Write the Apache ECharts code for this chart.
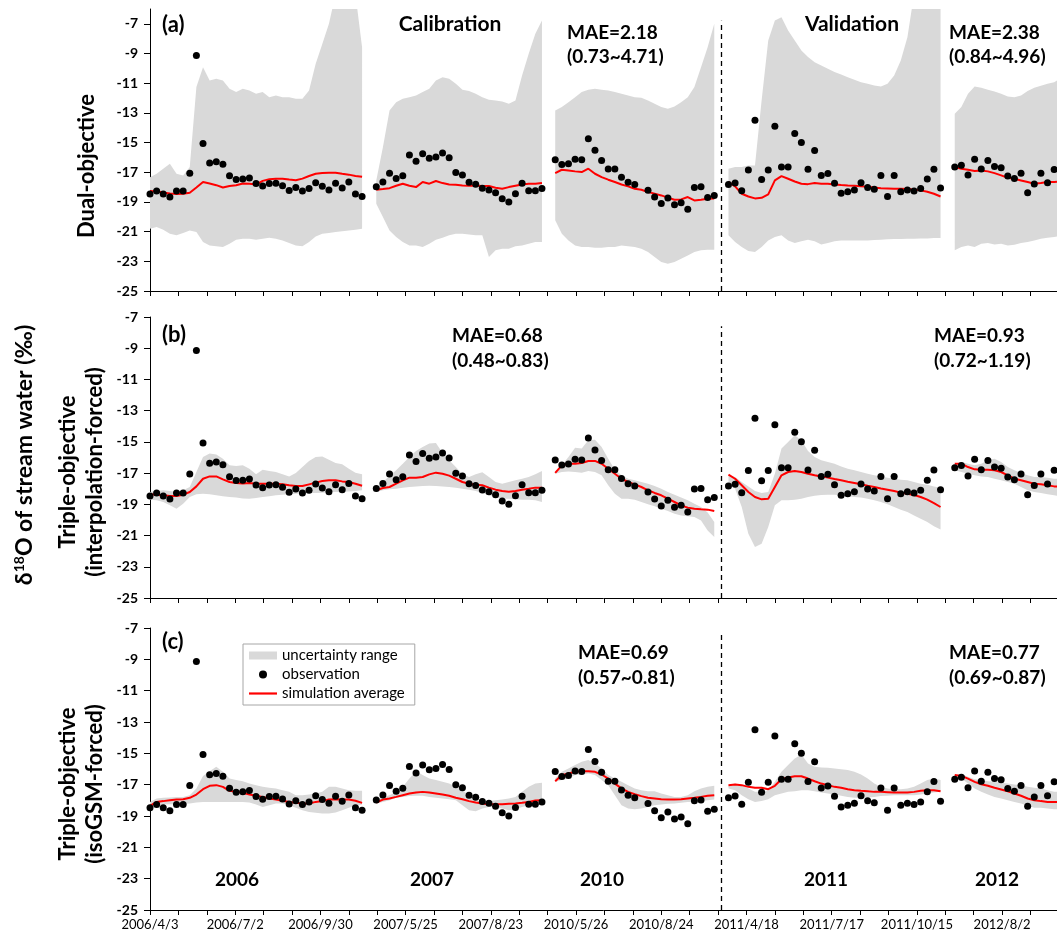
<!DOCTYPE html>
<html><head><meta charset="utf-8">
<script src="https://cdn.jsdelivr.net/npm/echarts@6/dist/echarts.min.js"></script>
<style>html,body{margin:0;padding:0;background:#fff}#c{width:1057px;height:940px}</style>
</head><body><div id="c"></div>
<script>
// ---- x positions (day index along the concatenated axis) ----
const x2006 = [0,7,14,21,28,35,42,49,56,63,70,77,84,91,98,105,112,119,126,133,140,147,154,161,168,175,182,189,196,203,210,217,224];
const x2007 = [239,246,253,260,267,274,281,288,295,302,309,316,323,330,337,344,351,358,365,372,379,386,393,400,407,414];
const x2010 = [428,435,442,449,456,463,470,477,484,491,498,505,512,519,526,533,540,547,554,561,568,575,582,589,596];
const x2011 = [611,618,625,632,639,646,653,660,667,674,681,688,695,702,709,716,723,730,737,744,751,758,765,772,779,786,793,800,807,814,821,828,835];
const x2012 = [850,857,864,871,878,885,892,899,906,913,920,927,934,941,948,955,958];

// ---- tick labels ----
const xTickValues = [0,30,60,90,120,150,180,210,240,270,300,330,360,390,420,450,480,510,540,570,600,630,660,690,720,750,780,810,840,870,900,930];
const xLabelValues = [0,90,180,270,360,450,540,630,720,810,900];
const xLabelText = ['2006/4/3','2006/7/2','2006/9/30','2007/5/25','2007/8/23','2010/5/26','2010/8/24','2011/4/18','2011/7/17','2011/10/15','2012/8/2'];
const yTickValues = [-25,-23,-21,-19,-17,-15,-13,-11,-9,-7];
const splitX = 603;

// ---- observations ----
const obs2006 = [-18.47,-18.27,-18.47,-18.66,-18.27,-18.27,-17.06,-9.14,-15.07,-16.37,-16.29,-16.46,-17.23,-17.48,-17.46,-17.38,-17.76,-17.93,-17.76,-17.74,-17.91,-18.23,-18.02,-18.27,-18.10,-17.70,-17.95,-18.19,-17.74,-18.06,-17.66,-18.47,-18.64];
const obs2007 = [-17.98,-17.66,-17.06,-17.42,-17.23,-15.84,-16.25,-15.75,-16.05,-15.97,-15.71,-16.03,-17.01,-17.19,-17.68,-17.80,-18.08,-18.19,-18.38,-18.79,-19.00,-18.45,-17.74,-18.25,-18.25,-18.10];
const obs2010 = [-16.16,-16.48,-16.42,-16.12,-16.16,-14.75,-15.52,-16.20,-16.78,-16.78,-17.34,-17.68,-17.83,null,-18.21,-18.66,-19.11,-18.74,-19.19,-19.06,-19.49,-18.02,-17.98,-18.70,-18.57];
const obs2011 = [-17.83,-17.72,-18.25,-16.84,-13.49,-17.49,-16.84,-13.90,-16.65,-16.65,-14.39,-14.99,-16.80,-15.54,-17.21,-17.08,-17.74,-18.42,-18.32,-18.19,-17.70,-18.02,-18.15,-17.21,-18.64,-17.21,-18.32,-18.19,-18.27,-18.10,-17.46,-16.80,-18.06];
const obs2012 = [-16.65,-16.52,-17.19,-16.12,-16.78,-16.20,-16.61,-16.69,-17.25,-17.42,-17.06,-18.38,-17.79,-17.06,-17.70,-16.82,null];

// ---- (a) Dual-objective ----
const aUp2006 = [-17.33,-17.10,-16.76,-16.43,-17.10,-17.21,-16.65,-11.26,-9.92,-10.82,-10.70,-10.82,-11.38,-11.60,-11.38,-11.49,-11.71,-11.60,-11.94,-11.83,-11.94,-11.94,-12.05,-12.05,-11.49,-9.69,-8.35,-7.00,-5,-5,-5,-5,-8.57];
const aLo2006 = [-20.80,-20.69,-20.87,-21.14,-21.25,-21.10,-20.92,-21.03,-21.70,-21.93,-21.99,-22.04,-21.81,-21.55,-21.48,-21.48,-21.55,-21.48,-21.41,-21.48,-21.59,-21.77,-21.93,-21.99,-21.70,-21.32,-21.14,-21.10,-21.03,-20.98,-20.92,-20.87,-20.80];
const aSim2006 = [-18.27,-18.29,-18.36,-18.43,-18.47,-18.45,-18.38,-18.03,-17.66,-17.76,-17.87,-18.03,-17.92,-17.87,-17.76,-17.78,-17.83,-17.58,-17.47,-17.43,-17.43,-17.49,-17.54,-17.43,-17.25,-17.10,-17.05,-17.03,-17.03,-17.10,-17.16,-17.25,-17.31];
const aUp2007 = [-17.55,-15.31,-12.84,-12.28,-12.05,-11.94,-11.83,-11.60,-11.38,-10.82,-10.59,-10.70,-11.04,-11.44,-11.53,-11.71,-11.94,-12.12,-12.16,-12.23,-12.39,-12.16,-10.48,-9.02,-7.67,-6.78];
const aLo2007 = [-19.12,-20.02,-20.92,-21.37,-21.70,-21.93,-21.93,-22.04,-21.81,-21.55,-21.41,-21.25,-21.14,-21.14,-21.19,-21.25,-21.25,-22.71,-22.26,-22.15,-22.15,-21.99,-21.93,-21.81,-21.70,-21.70];
const aSim2007 = [-18.18,-18.13,-18.07,-17.91,-17.77,-17.91,-18.00,-17.66,-17.77,-17.59,-17.73,-17.82,-17.84,-17.89,-17.91,-17.91,-17.93,-17.93,-18.04,-18.11,-18.00,-17.91,-17.82,-17.77,-17.77,-17.73];
const aUp2010 = [-12.84,-12.61,-12.28,-11.94,-11.60,-11.44,-11.38,-11.44,-11.49,-11.60,-11.71,-11.83,-11.94,-11.98,-12.16,-12.39,-12.61,-12.72,-12.57,-12.28,-11.94,-11.26,-9.92,-8.57,-7.00];
const aLo2010 = [-20.24,-21.14,-21.59,-21.93,-22.04,-22.04,-22.08,-22.08,-22.04,-22.04,-21.93,-21.99,-22.04,-22.15,-22.38,-22.71,-23.05,-23.16,-23.05,-22.82,-22.60,-22.38,-22.26,-22.22,-22.22];
const aSim2010 = [-17.06,-16.83,-16.88,-16.94,-16.99,-16.76,-17.10,-17.33,-17.50,-17.66,-17.82,-17.95,-18.11,-18.18,-18.33,-18.44,-18.56,-18.71,-18.85,-18.83,-18.67,-18.90,-18.85,-18.78,-18.76];
const aUp2011 = [-16.76,-16.65,-16.65,-16.54,-16.54,-12.16,-8.12,-6.78,-6.55,-7.45,-8.12,-8.80,-9.24,-9.58,-9.81,-10.03,-10.25,-10.41,-10.59,-10.77,-10.93,-11.04,-11.15,-11.22,-11.04,-10.48,-9.47,-7.90,-5,-5,-5,-5,-5];
const aLo2011 = [-21.25,-21.70,-22.04,-22.31,-22.38,-22.04,-21.59,-21.37,-21.25,-21.59,-21.77,-21.64,-21.55,-21.64,-21.86,-21.77,-21.64,-21.59,-21.59,-21.59,-21.59,-21.59,-21.57,-21.55,-21.52,-21.50,-21.50,-21.48,-21.48,-21.46,-21.46,-21.43,-21.43];
const aSim2011 = [-17.65,-17.95,-18.45,-18.63,-18.76,-18.72,-18.49,-17.55,-17.26,-17.44,-17.62,-17.77,-17.80,-17.73,-17.77,-17.77,-17.82,-17.86,-17.89,-17.91,-17.95,-17.98,-18.02,-18.07,-18.09,-18.11,-18.11,-18.13,-18.16,-18.22,-18.31,-18.45,-18.63];
const aUp2012 = [-13.06,-12.61,-11.71,-11.22,-11.31,-11.44,-11.56,-11.71,-11.89,-11.94,-11.83,-11.53,-11.31,-11.17,-11.04,-10.93,-10.82];
const aLo2012 = [-22.26,-22.04,-21.93,-22.04,-21.81,-21.77,-21.86,-21.81,-21.93,-21.88,-21.77,-21.70,-21.59,-21.48,-21.41,-21.37,-21.32];
const aSim2012 = [-16.65,-16.76,-16.83,-16.92,-16.88,-16.94,-17.06,-17.21,-17.37,-17.44,-17.55,-17.66,-17.77,-17.73,-17.66,-17.66,-17.64];

// ---- (b) Triple-objective (interpolation-forced) ----
const bUp2006 = [-18.21,-18.15,-18.10,-18.15,-18.21,-18.10,-17.89,-16.93,-15.97,-15.75,-15.80,-16.08,-16.50,-16.55,-16.50,-16.72,-17.08,-16.78,-16.87,-16.93,-17.08,-17.21,-16.99,-16.61,-16.22,-15.97,-15.93,-16.14,-16.35,-16.44,-16.72,-16.97,-17.08];
const bLo2006 = [-18.70,-18.74,-18.85,-19.06,-19.28,-18.96,-18.53,-18.36,-18.32,-18.36,-18.42,-18.49,-18.53,-18.57,-18.62,-18.64,-18.60,-18.53,-18.49,-18.42,-18.38,-18.36,-18.32,-18.30,-18.27,-18.27,-18.25,-18.23,-18.21,-18.19,-18.17,-18.15,-18.10];
const bSim2006 = [-18.36,-18.38,-18.42,-18.47,-18.47,-18.38,-18.21,-17.85,-17.36,-17.21,-17.21,-17.40,-17.57,-17.63,-17.66,-17.63,-17.68,-17.68,-17.68,-17.68,-17.72,-17.78,-17.83,-17.83,-17.72,-17.61,-17.51,-17.46,-17.46,-17.53,-17.57,-17.68,-17.81];
const bUp2007 = [-17.89,-17.57,-17.19,-16.82,-16.40,-15.97,-15.58,-15.33,-15.11,-15.07,-15.71,-16.18,-16.61,-17.08,-17.25,-17.08,-16.95,-17.25,-17.57,-17.68,-17.57,-17.46,-17.36,-17.25,-17.08,-16.87];
const bLo2007 = [-18.21,-18.10,-18.04,-18.00,-17.93,-17.89,-17.85,-17.83,-17.81,-17.83,-17.85,-17.89,-17.93,-18.00,-18.06,-18.15,-18.27,-18.42,-18.53,-18.64,-18.64,-18.68,-18.70,-18.70,-18.74,-18.85];
const bSim2007 = [-18.10,-17.95,-17.89,-17.68,-17.46,-17.29,-17.29,-17.25,-17.08,-16.97,-17.04,-17.16,-17.36,-17.57,-17.68,-17.74,-17.78,-17.93,-18.06,-18.15,-18.19,-18.15,-18.06,-18.00,-17.93,-17.93];
const bUp2010 = [-16.93,-16.50,-15.97,-15.37,-15.43,-14.90,-14.86,-15.33,-16.08,-16.78,-17.14,-17.36,-17.46,-17.57,-17.68,-17.83,-18.00,-18.21,-18.38,-18.57,-18.74,-18.96,-19.17,-19.53,-20.13];
const bLo2010 = [-17.04,-16.93,-16.89,-16.93,-16.97,-16.87,-16.93,-17.14,-17.78,-18.32,-18.64,-18.64,-18.70,-18.85,-19.00,-19.13,-19.28,-19.43,-19.60,-19.71,-19.77,-19.81,-20.03,-20.67,-21.09];
const bSim2010 = [-16.99,-16.50,-16.40,-16.40,-16.35,-16.22,-16.22,-16.40,-16.72,-17.04,-17.36,-17.57,-17.72,-17.89,-18.10,-18.27,-18.42,-18.64,-18.85,-19.07,-19.21,-19.28,-19.32,-19.34,-19.43];
const bUp2011 = [-17.14,-17.25,-17.57,-17.85,-18.15,-18.27,-18.21,-17.04,-15.43,-15.01,-14.58,-14.90,-15.58,-15.97,-16.18,-16.29,-16.40,-16.57,-16.72,-16.82,-16.93,-17.04,-17.14,-17.21,-17.29,-17.36,-17.42,-17.46,-17.57,-17.68,-17.74,-17.85,-17.93];
const bLo2011 = [-17.57,-18.00,-19.17,-20.88,-21.73,-21.52,-20.45,-19.06,-18.74,-18.74,-18.70,-18.64,-18.53,-18.45,-18.40,-18.38,-18.38,-18.42,-18.49,-18.53,-18.57,-18.64,-18.74,-18.85,-19.00,-19.17,-19.34,-19.49,-19.71,-19.92,-20.13,-20.41,-20.62];
const bSim2011 = [-17.10,-17.36,-17.78,-18.21,-18.53,-18.68,-18.64,-17.89,-17.14,-16.93,-16.87,-16.93,-17.04,-17.14,-17.21,-17.29,-17.38,-17.46,-17.55,-17.63,-17.72,-17.81,-17.89,-17.98,-18.06,-18.15,-18.25,-18.32,-18.40,-18.53,-18.70,-18.92,-19.17];
const bUp2012 = [-16.40,-16.29,-16.40,-16.50,-16.40,-16.18,-16.08,-16.29,-16.61,-16.82,-16.99,-17.14,-17.25,-17.25,-17.29,-17.36,-17.36];
const bLo2012 = [-16.82,-16.93,-17.04,-17.14,-17.21,-17.25,-17.36,-17.46,-17.57,-17.68,-17.89,-18.10,-18.21,-18.27,-18.36,-18.42,-18.45];
const bSim2012 = [-16.40,-16.40,-16.61,-16.76,-16.78,-16.78,-16.82,-16.93,-17.14,-17.36,-17.46,-17.57,-17.68,-17.72,-17.78,-17.85,-17.85];

// ---- (c) Triple-objective (isoGSM-forced) ----
const cUp2006 = [-18.10,-17.88,-17.84,-17.82,-17.78,-17.78,-17.67,-17.24,-16.44,-16.14,-15.86,-16.18,-16.61,-16.71,-16.78,-16.93,-17.03,-17.14,-17.20,-17.24,-17.35,-17.46,-17.67,-17.67,-17.63,-17.56,-17.46,-17.14,-17.14,-17.24,-17.35,-17.39,-17.39];
const cLo2006 = [-18.48,-18.31,-18.27,-18.25,-18.25,-18.22,-18.20,-18.14,-18.10,-18.10,-18.10,-18.10,-18.10,-18.10,-18.10,-18.14,-18.27,-18.42,-18.31,-18.20,-18.20,-18.31,-18.48,-18.63,-18.74,-18.80,-18.84,-18.84,-18.78,-18.63,-18.48,-18.35,-18.27];
const cSim2006 = [-18.35,-18.10,-18.05,-17.99,-17.95,-17.93,-17.84,-17.63,-17.29,-17.07,-17.03,-17.14,-17.39,-17.46,-17.52,-17.63,-17.71,-17.78,-17.88,-17.95,-18.03,-18.10,-18.16,-18.20,-18.20,-18.10,-18.05,-17.95,-17.93,-17.95,-17.95,-18.03,-18.16];
const cUp2007 = [-17.99,-17.78,-17.67,-17.46,-17.14,-16.61,-16.14,-16.39,-16.61,-16.71,-16.82,-16.93,-17.14,-17.35,-17.67,-17.99,-18.10,-18.05,-17.99,-17.95,-17.88,-17.78,-17.46,-17.14,-16.93,-16.88];
const cLo2007 = [-18.20,-18.10,-17.99,-17.84,-17.78,-17.73,-17.71,-17.71,-17.78,-17.84,-17.88,-17.93,-17.99,-18.31,-18.63,-18.69,-18.52,-18.42,-18.42,-18.52,-18.63,-18.57,-18.42,-18.31,-18.27,-18.20];
const cSim2007 = [-18.14,-17.95,-17.88,-17.78,-17.67,-17.56,-17.50,-17.46,-17.50,-17.56,-17.63,-17.71,-17.84,-17.93,-18.05,-18.14,-18.20,-18.25,-18.25,-18.25,-18.22,-18.20,-18.16,-18.10,-18.01,-17.99];
const cUp2010 = [-16.61,-16.18,-15.97,-15.75,-15.54,-15.43,-15.65,-15.97,-16.39,-16.61,-16.82,-17.03,-17.24,-17.35,-17.42,-17.42,-17.56,-17.67,-17.78,-17.78,-17.67,-17.42,-17.24,-17.14,-17.07];
const cLo2010 = [-16.82,-16.71,-16.61,-16.39,-16.35,-16.29,-16.39,-16.71,-17.03,-17.67,-18.31,-18.52,-18.57,-18.52,-18.42,-18.31,-18.27,-18.22,-18.20,-18.16,-18.10,-18.10,-18.05,-17.99,-17.95];
const cSim2010 = [-16.78,-16.39,-16.29,-16.18,-16.14,-16.14,-16.18,-16.35,-16.61,-16.93,-17.24,-17.46,-17.61,-17.73,-17.84,-17.88,-17.93,-17.95,-17.95,-17.93,-17.88,-17.84,-17.78,-17.71,-17.67];
const cUp2011 = [-17.03,-16.93,-17.03,-17.24,-17.46,-17.46,-17.35,-16.82,-16.18,-15.75,-15.33,-15.07,-15.65,-15.86,-15.90,-15.92,-15.97,-16.01,-16.07,-16.18,-16.35,-16.61,-16.93,-17.14,-17.24,-17.29,-17.29,-17.24,-17.14,-16.93,-16.71,-16.61,-16.71];
const cLo2011 = [-17.24,-17.35,-17.67,-17.93,-18.10,-18.05,-17.93,-17.67,-17.56,-17.46,-17.42,-17.35,-17.35,-17.42,-17.50,-17.56,-17.63,-17.71,-17.78,-17.84,-17.84,-17.82,-17.78,-17.73,-17.71,-17.67,-17.67,-17.67,-17.67,-17.63,-17.56,-17.50,-17.46];
const cSim2011 = [-17.03,-16.99,-17.03,-17.14,-17.20,-17.20,-17.29,-17.07,-16.65,-16.54,-16.46,-16.46,-16.61,-16.78,-16.93,-17.03,-17.14,-17.20,-17.29,-17.35,-17.39,-17.42,-17.46,-17.46,-17.48,-17.50,-17.50,-17.50,-17.46,-17.39,-17.35,-17.35,-17.42];
const cUp2012 = [-16.35,-16.35,-16.50,-16.65,-16.71,-16.78,-16.82,-16.88,-16.93,-16.99,-17.03,-17.14,-17.20,-17.24,-17.35,-17.46,-17.46];
const cLo2012 = [-16.50,-16.61,-16.93,-17.24,-17.46,-17.63,-17.78,-17.88,-17.99,-18.10,-18.20,-18.35,-18.48,-18.48,-18.52,-18.57,-18.57];
const cSim2012 = [-16.39,-16.44,-16.61,-16.82,-16.97,-17.07,-17.20,-17.31,-17.42,-17.56,-17.71,-17.88,-17.99,-18.05,-18.10,-18.10,-18.10];

// ---------------- build ----------------
const segX = [x2006, x2007, x2010, x2011, x2012];
const segObs = [obs2006, obs2007, obs2010, obs2011, obs2012];
const panelUp = [[aUp2006,aUp2007,aUp2010,aUp2011,aUp2012],[bUp2006,bUp2007,bUp2010,bUp2011,bUp2012],[cUp2006,cUp2007,cUp2010,cUp2011,cUp2012]];
const panelLo = [[aLo2006,aLo2007,aLo2010,aLo2011,aLo2012],[bLo2006,bLo2007,bLo2010,bLo2011,bLo2012],[cLo2006,cLo2007,cLo2010,cLo2011,cLo2012]];
const panelSim = [[aSim2006,aSim2007,aSim2010,aSim2011,aSim2012],[bSim2006,bSim2007,bSim2010,bSim2011,bSim2012],[cSim2006,cSim2007,cSim2010,cSim2011,cSim2012]];
const yMax = [-6, -7, -7];
const dashTop = [-6.8, -7.6, -7.4];

const FONT = 'Lato';
const grids = [
  {left:150, right:0, top:9, height:282},
  {left:150, right:0, top:317, height:281},
  {left:150, right:0, top:628, height:282}
];

const obsData = [];
segX.forEach((xs, s) => xs.forEach((x, k) => { const v = segObs[s][k]; if (v !== null && v !== undefined) obsData.push([x, v]); }));

const xAxes = [], yAxes = [], series = [];
for (let p = 0; p < 3; p++) {
  xAxes.push({
    gridIndex:p, type:'value', min:0, max:958,
    axisLine:{show:true, onZero:false, lineStyle:{color:'#000', width:1}},
    axisTick:{show:true, length:5, customValues:xTickValues, lineStyle:{color:'#000'}},
    axisLabel:{show:p===2, customValues:xLabelValues, margin:8,
      formatter:function(v){ const i = xLabelValues.indexOf(v); return i >= 0 ? xLabelText[i] : ''; },
      fontFamily:FONT, fontSize:13, color:'#000'},
    splitLine:{show:false}
  });
  yAxes.push({
    gridIndex:p, type:'value', min:-25, max:yMax[p],
    axisLine:{show:true, onZero:false, lineStyle:{color:'#000', width:1}},
    axisTick:{show:true, length:6, customValues:yTickValues, lineStyle:{color:'#000'}},
    axisLabel:{customValues:yTickValues, margin:12, fontFamily:FONT, fontWeight:'bold', fontSize:14, color:'#000'},
    splitLine:{show:false}
  });
  const up = panelUp[p], lo = panelLo[p];
  series.push({
    type:'custom', name:'uncertainty range', xAxisIndex:p, yAxisIndex:p, clip:true, silent:true,
    itemStyle:{color:'#d9d9d9'},
    data: segX.map((xs, s) => [xs[0], -25, s]),
    encode:{x:0, y:1},
    renderItem:function(params, api){
      const s = api.value(2);
      const xs = segX[s], u = up[s], l = lo[s];
      const pts = [];
      for (let k = 0; k < xs.length; k++) pts.push(api.coord([xs[k], u[k]]));
      for (let k = xs.length - 1; k >= 0; k--) pts.push(api.coord([xs[k], l[k]]));
      return {type:'polygon', shape:{points:pts}, style:{fill:'#d9d9d9', stroke:null}};
    },
    z:1
  });
  const simData = [];
  segX.forEach((xs, s) => { xs.forEach((x, k) => simData.push([x, panelSim[p][s][k]])); simData.push([xs[xs.length-1] + 1, null]); });
  series.push({
    type:'line', name:'simulation average', xAxisIndex:p, yAxisIndex:p, data:simData,
    symbol:'none', showSymbol:false, connectNulls:false,
    lineStyle:{color:'#ff0000', width:2}, itemStyle:{color:'#ff0000'}, z:3,
    markLine:{silent:true, symbol:['none','none'], label:{show:false},
      lineStyle:{color:'#000', type:[5,4], width:1.3},
      data:[[{coord:[splitX, -25]}, {coord:[splitX, dashTop[p]]}]]}
  });
  series.push({
    type:'scatter', name:'observation', xAxisIndex:p, yAxisIndex:p, data:obsData,
    symbol:'circle', symbolSize:7, itemStyle:{color:'#000', opacity:1}, z:4
  });
}

function txt(x, y, text, size, align, extra) {
  return Object.assign({type:'text', x:x, y:y, silent:true,
    style:{text:text, fontFamily:FONT, fontWeight:'bold', fontSize:size, fill:'#000', textAlign:align || 'left', textVerticalAlign:'middle'}}, extra || {});
}
const R = Math.PI / 2;
const graphics = [
  txt(162, 25, '(a)', 22), txt(450, 24, 'Calibration', 21, 'center'), txt(852, 24, 'Validation', 21, 'center'),
  txt(567, 33, 'MAE=2.18', 19), txt(567, 57, '(0.73~4.71)', 19),
  txt(949, 33, 'MAE=2.38', 19), txt(949, 57, '(0.84~4.96)', 19),
  txt(162, 335, '(b)', 22),
  txt(452, 336, 'MAE=0.68', 19), txt(452, 361, '(0.48~0.83)', 19),
  txt(934, 336, 'MAE=0.93', 19), txt(934, 361, '(0.72~1.19)', 19),
  txt(162, 642, '(c)', 22),
  txt(578, 653, 'MAE=0.69', 19), txt(578, 678, '(0.57~0.81)', 19),
  txt(949, 653, 'MAE=0.77', 19), txt(949, 678, '(0.69~0.87)', 19),
  txt(237, 880, '2006', 19, 'center'), txt(432, 880, '2007', 19, 'center'), txt(602, 880, '2010', 19, 'center'),
  txt(826, 880, '2011', 19, 'center'), txt(997, 880, '2012', 19, 'center'),
  txt(87, 166, 'Dual-objective', 22, 'center', {rotation:R}),
  txt(68, 472, 'Triple-objective', 22, 'center', {rotation:R}),
  txt(95, 472, '(interpolation-forced)', 22, 'center', {rotation:R}),
  txt(68, 784, 'Triple-objective', 22, 'center', {rotation:R}),
  txt(95, 784, '(isoGSM-forced)', 22, 'center', {rotation:R}),
  {type:'text', x:25, y:455, rotation:R, silent:true,
    style:{text:'{b|δ}{s|18}{b|O of stream water (‰)}', textAlign:'center', textVerticalAlign:'middle',
      rich:{b:{fontFamily:FONT, fontWeight:'bold', fontSize:23, fill:'#000'},
            s:{fontFamily:FONT, fontWeight:'bold', fontSize:14, fill:'#000', padding:[0,0,11,0]}}}}
];

const chart = echarts.init(document.getElementById('c'), null, {renderer:'canvas'});
chart.setOption({
  animation:false,
  backgroundColor:'#fff',
  grid:grids,
  xAxis:xAxes,
  yAxis:yAxes,
  series:series,
  legend:{left:243, top:644, orient:'vertical', itemWidth:28, itemHeight:8, itemGap:4,
    padding:[4,10,4,6], borderColor:'#a6a6a6', borderWidth:1, backgroundColor:'#fff', selectedMode:false,
    textStyle:{fontFamily:FONT, fontSize:15, color:'#000'},
    data:[{name:'uncertainty range', icon:'rect', itemStyle:{color:'#d9d9d9'}},
          {name:'observation', icon:'circle', itemStyle:{color:'#000'}},
          {name:'simulation average', icon:'path://M0,0 L28,0 L28,2.2 L0,2.2 Z', itemStyle:{color:'#ff0000'}}]},
  graphic:graphics
});
</script></body></html>
